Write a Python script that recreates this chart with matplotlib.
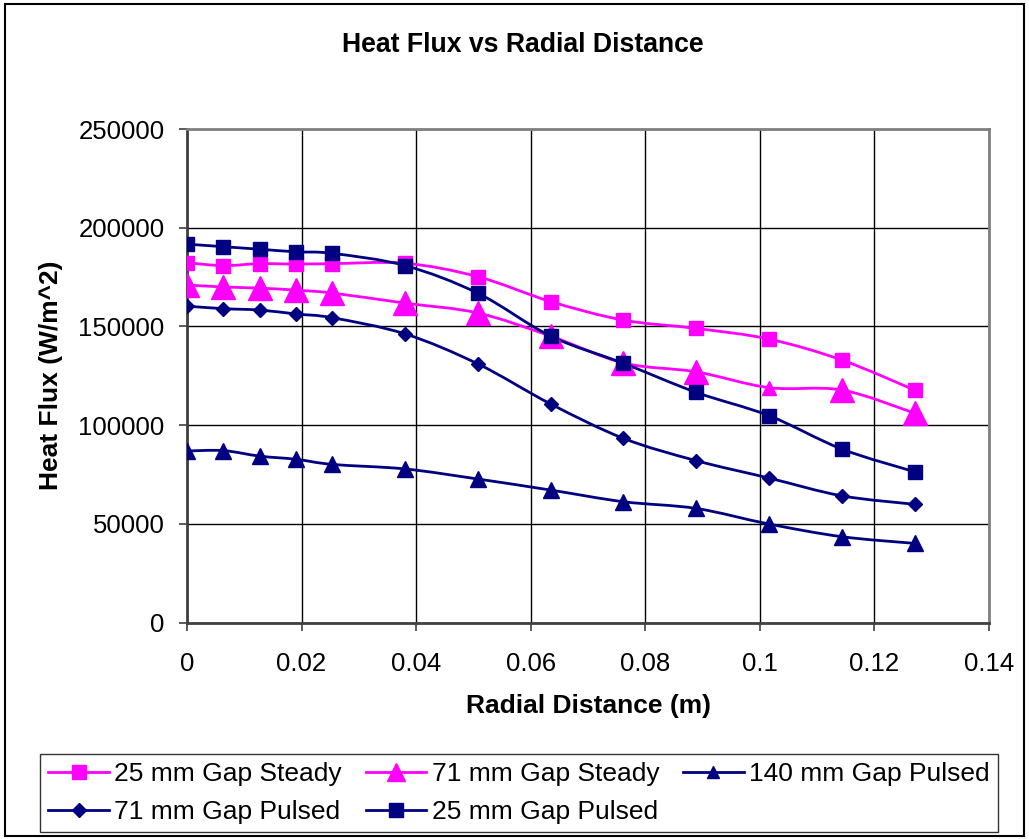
import numpy as np
import matplotlib
matplotlib.use("Agg")
import matplotlib.pyplot as plt
from matplotlib.path import Path
from matplotlib.patches import PathPatch, Rectangle
from matplotlib.lines import Line2D

plt.rcParams["font.family"] = ["Liberation Sans", "DejaVu Sans"]

# radial positions (m)
radial = [0, 0.00635, 0.0127, 0.01905, 0.0254, 0.0381, 0.0508,
          0.0635, 0.0762, 0.0889, 0.1016, 0.1143, 0.127]

# heat flux (W/m^2)
steady_25 = [182300, 180800, 181800, 181600, 181800, 182000, 175200,
             162600, 153200, 149000, 143600, 133000, 117800]
steady_71 = [171000, 170000, 169400, 168400, 166900, 161800, 156800,
             145100, 131500, 127000, 119000, 117800, 106100]
pulsed_140 = [86900, 87100, 84300, 82700, 80100, 77800, 72700,
              67100, 61200, 57800, 49900, 43500, 40100]
pulsed_71 = [160300, 159000, 158300, 156300, 154400, 146200, 131000,
             110700, 93300, 82000, 73200, 64200, 59900]
pulsed_25 = [191700, 190400, 189100, 187800, 187000, 180800, 166800,
             145100, 131300, 116600, 104800, 87900, 76400]

labels = ["25 mm Gap Steady", "71 mm Gap Steady", "140 mm Gap Pulsed",
          "71 mm Gap Pulsed", "25 mm Gap Pulsed"]

MAGENTA = "#FF00FF"
NAVY = "#000080"


def smooth_line(ax, xs, ys, color, lw):
    # excel style smoothed line: bezier segments through the points
    x = np.asarray(xs, float)
    y = np.asarray(ys, float)
    n = len(x)
    verts = [(x[0], y[0])]
    codes = [Path.MOVETO]
    for i in range(n - 1):
        p0 = i - 1 if i > 0 else i
        p3 = i + 2 if i + 2 < n else i + 1
        c1 = (x[i] + (x[i + 1] - x[p0]) / 6, y[i] + (y[i + 1] - y[p0]) / 6)
        c2 = (x[i + 1] - (x[p3] - x[i]) / 6, y[i + 1] - (y[p3] - y[i]) / 6)
        verts += [c1, c2, (x[i + 1], y[i + 1])]
        codes += [Path.CURVE4] * 3
    ax.add_patch(PathPatch(Path(verts, codes), fill=False, edgecolor=color,
                           lw=lw, zorder=3, capstyle="round", joinstyle="round"))


fig = plt.figure(figsize=(10.29, 8.39), dpi=100)
ax = fig.add_axes([0.1817, 0.2580, 0.7794, 0.5882])

series = [
    (steady_25, MAGENTA, "s", 10.5),
    (steady_71, MAGENTA, "^", 17),
    (pulsed_140, NAVY, "^", 11),
    (pulsed_71, NAVY, "D", 6.8),
    (pulsed_25, NAVY, "s", 10.5),
]

for ys, col, mk, ms in series:
    smooth_line(ax, radial, ys, col, 2.0)

for ys, col, mk, ms in series:
    if ys is steady_71:
        # one smaller triangle in the original at 0.1016
        big = [i for i in range(len(ys)) if i != 10]
        ax.plot(radial, ys, linestyle="none", marker=mk, ms=ms, color=col,
                markevery=big, zorder=4)
        ax.plot(radial[10], ys[10], linestyle="none", marker=mk, ms=9.5,
                color=col, zorder=4)
    else:
        ax.plot(radial, ys, linestyle="none", marker=mk, ms=ms, color=col, zorder=4)

ax.set_xlim(0, 0.14)
ax.set_ylim(0, 250000)
ax.set_xticks(np.arange(0, 0.141, 0.02))
ax.set_xticklabels(["0", "0.02", "0.04", "0.06", "0.08", "0.1", "0.12", "0.14"])
ax.set_yticks(np.arange(0, 250001, 50000))
ax.set_yticklabels([str(v) for v in range(0, 250001, 50000)])
ax.grid(True, color="black", lw=1.0)
ax.set_axisbelow(True)
ax.tick_params(direction="out", length=6, width=1.2, color="#404040",
               labelsize=18.5)
ax.tick_params(axis="y", pad=10)
ax.tick_params(axis="x", pad=15)
for side in ["top", "right"]:
    ax.spines[side].set_color("#808080")
    ax.spines[side].set_linewidth(2)
for side in ["left", "bottom"]:
    ax.spines[side].set_color("#404040")
    ax.spines[side].set_linewidth(2)

fig.text(0.508, 0.9464, "Heat Flux vs Radial Distance", ha="center",
         va="center", fontsize=19.2, fontweight="bold")
fig.text(0.572, 0.1585, "Radial Distance (m)", ha="center", va="center",
         fontsize=19, fontweight="bold")
fig.text(0.0496, 0.553, "Heat Flux (W/m^2)", ha="center", va="center",
         rotation=90, fontsize=19, fontweight="bold")

handles = [
    Line2D([], [], color=MAGENTA, lw=2, marker="s", ms=10.5),
    Line2D([], [], color=MAGENTA, lw=2, marker="^", ms=13),
    Line2D([], [], color=NAVY, lw=2, marker="^", ms=9),
    Line2D([], [], color=NAVY, lw=2, marker="D", ms=7),
    Line2D([], [], color=NAVY, lw=2, marker="s", ms=10.5),
]
# matplotlib fills legend columns first, so reorder to get excel's rows
order = [0, 3, 1, 4, 2]
leg = fig.legend([handles[i] for i in order], [labels[i] for i in order],
                 ncol=3, loc="center",
                 bbox_to_anchor=(0.5044, 0.0548), fontsize=19,
                 frameon=True, fancybox=False, handlelength=2.3,
                 handletextpad=0.2, columnspacing=0.9, labelspacing=0.55,
                 borderpad=0.3, borderaxespad=0)
leg.get_frame().set_edgecolor("black")
leg.get_frame().set_linewidth(1.0)

# outer chart border
fig.add_artist(Rectangle((5 / 1029, 3 / 839), 1019 / 1029, 832 / 839,
                         transform=fig.transFigure, fill=False,
                         edgecolor="black", lw=1.5))

plt.savefig("out.png", dpi=100)
